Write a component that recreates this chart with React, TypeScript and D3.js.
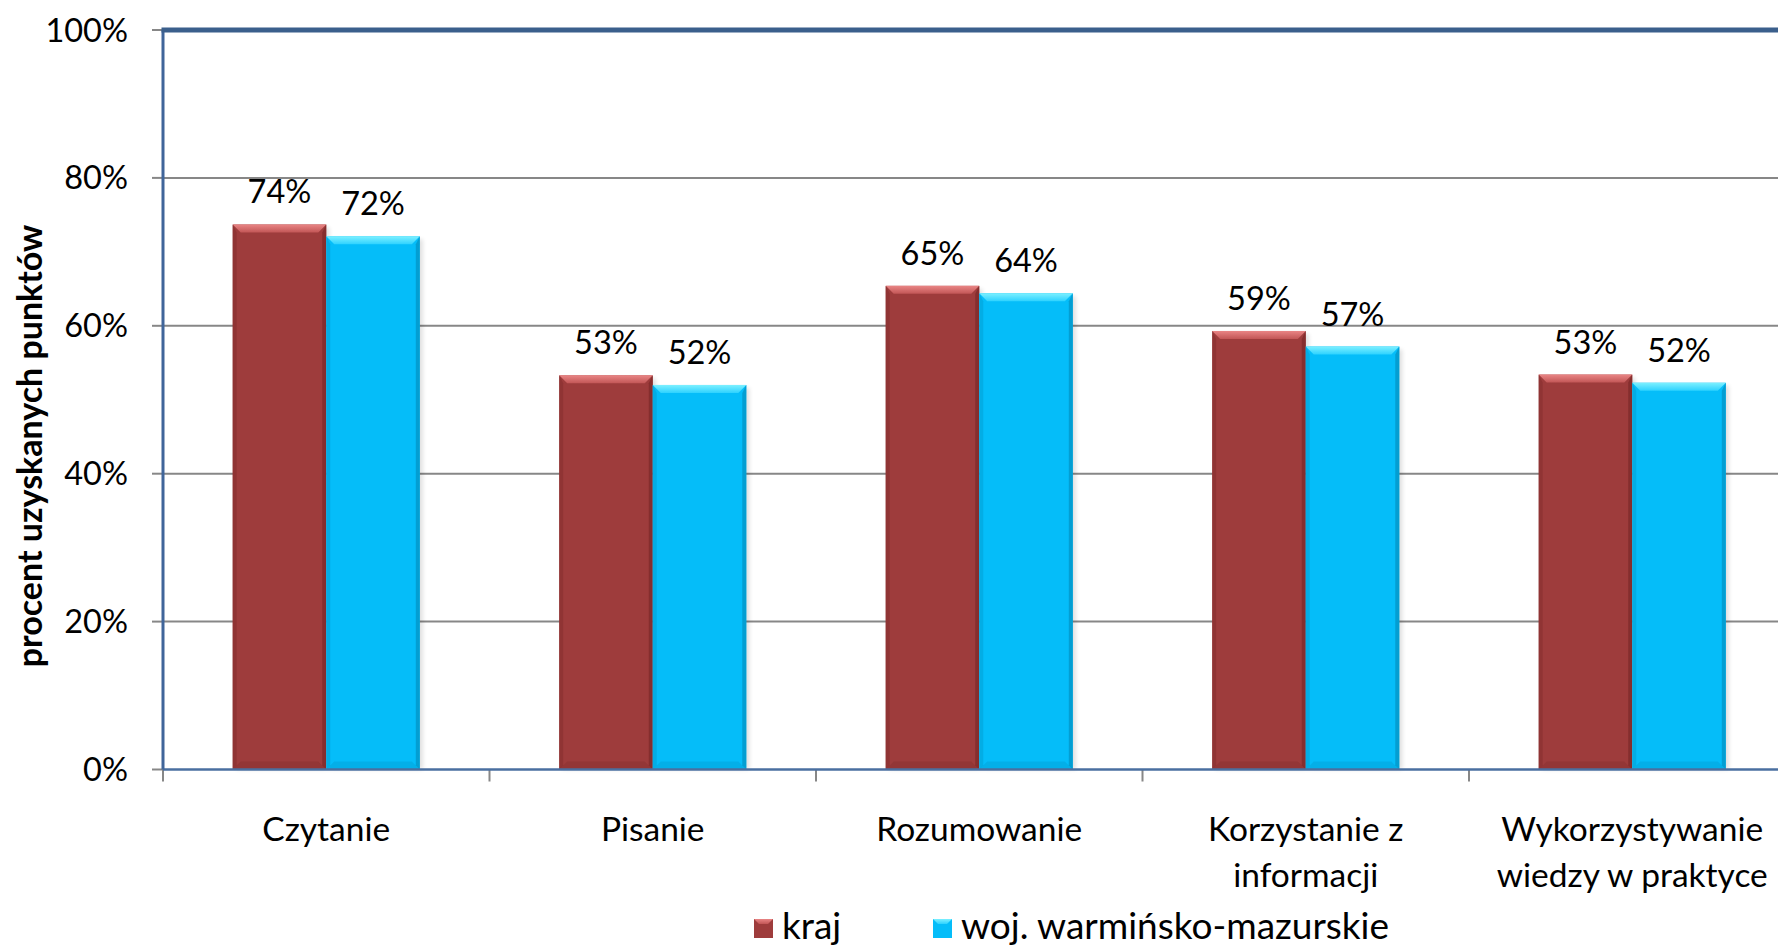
import React from "react";
import * as d3 from "d3";

const categories = ["Czytanie", "Pisanie", "Rozumowanie", "Korzystanie z informacji", "Wykorzystywanie wiedzy w praktyce"];
const categoryLines = [["Czytanie"], ["Pisanie"], ["Rozumowanie"], ["Korzystanie z", "informacji"], ["Wykorzystywanie", "wiedzy w praktyce"]];
const seriesNames = ["kraj", "woj. warmińsko-mazurskie"];
const krajValues = [73.7, 53.3, 65.4, 59.3, 53.4];
const wojValues = [72.1, 52.0, 64.4, 57.2, 52.3];
const yTicks = [0, 20, 40, 60, 80, 100];
const yAxisTitle = "procent uzyskanych punktów";

const W = 1778;
const H = 946;
const FONT = "Lato, 'Open Sans', sans-serif";

const seriesStyle = [
  { base: "#9E3C3C", top: "#E98585", topDark: "#C25656", side: "#8A3030", bottom: "#7E2A2A" },
  { base: "#05BDF9", top: "#7DF0FF", topDark: "#2ED2FF", side: "#03A6DD", bottom: "#0396C8" },
];

export default function App() {
  const left = 163;
  const step = 326.5;
  const top = 30;
  const bottom = 769.5;
  const x = d3
    .scaleBand<string>()
    .domain(categories)
    .range([left, left + step * categories.length])
    .paddingInner(0.427)
    .paddingOuter(0.2135);
  const xs = d3.scaleBand<string>().domain(seriesNames).range([0, x.bandwidth()]).padding(0);
  const y = d3.scaleLinear().domain([0, 100]).range([bottom, top]);
  const values = [krajValues, wojValues];
  const b = 8;

  const bars: React.ReactNode[] = [];
  categories.forEach((c, ci) => {
    seriesNames.forEach((s, si) => {
      const v = values[si][ci];
      const bx = (x(c) as number) + (xs(s) as number);
      const bw = xs.bandwidth();
      const by = y(v);
      const bh = y(0) - by;
      const st = seriesStyle[si];
      bars.push(
        <g key={`${c}-${s}`}>
          <rect x={bx + 3} y={by + 3} width={bw} height={bh - 3} fill="#000" opacity={0.12} filter="url(#blur)" />
          <rect x={bx} y={by} width={bw} height={bh} fill={st.base} />
          <polygon
            points={`${bx},${by} ${bx + bw},${by} ${bx + bw - b},${by + b} ${bx + b},${by + b}`}
            fill={`url(#topg${si})`}
          />
          <polygon
            points={`${bx},${by} ${bx + b * 0.5},${by + b} ${bx + b * 0.5},${by + bh - b * 0.5} ${bx},${by + bh}`}
            fill={st.side}
            opacity={0.7}
          />
          <polygon
            points={`${bx + bw},${by} ${bx + bw - b * 0.5},${by + b} ${bx + bw - b * 0.5},${by + bh - b * 0.5} ${bx + bw},${by + bh}`}
            fill={st.bottom}
            opacity={0.8}
          />
          <polygon
            points={`${bx},${by + bh} ${bx + bw},${by + bh} ${bx + bw - b},${by + bh - b} ${bx + b},${by + bh - b}`}
            fill={st.bottom}
            opacity={0.35}
          />
          <text
            x={bx + bw / 2}
            y={by - 21}
            textAnchor="middle"
            fontFamily={FONT}
            fontSize={32.5}
            fill="#000"
          >
            {`${Math.round(v)}%`}
          </text>
        </g>
      );
    });
  });

  const xTickPositions = d3.range(categories.length + 1).map((i) => left + i * step);

  return (
    <svg width={W} height={H} style={{ position: "absolute", left: 0, top: 0, background: "#fff" }}>
      <defs>
        {seriesStyle.map((st, i) => (
          <linearGradient key={i} id={`topg${i}`} x1="0" y1="0" x2="0" y2="1">
            <stop offset="0%" stopColor={st.top} />
            <stop offset="100%" stopColor={st.topDark} />
          </linearGradient>
        ))}
        <filter id="blur" x="-10%" y="-10%" width="120%" height="120%">
          <feGaussianBlur stdDeviation="2" />
        </filter>
      </defs>
      <rect x={0} y={0} width={W} height={H} fill="#fff" />
      {yTicks
        .filter((t) => t > 0 && t < 100)
        .map((t) => (
          <line key={t} x1={left} x2={W} y1={y(t)} y2={y(t)} stroke="#878787" strokeWidth={2} />
        ))}
      {yTicks.map((t) => (
        <line key={`yt${t}`} x1={left - 11} x2={left} y1={y(t)} y2={y(t)} stroke="#878787" strokeWidth={2} />
      ))}
      {xTickPositions.map((p, i) => (
        <line key={`xt${i}`} x1={p} x2={p} y1={bottom} y2={bottom + 12} stroke="#878787" strokeWidth={2} />
      ))}
      {bars}
      <line x1={left} x2={W} y1={bottom} y2={bottom} stroke="#4A6FA0" strokeWidth={2.5} />
      <line x1={left} x2={left} y1={top} y2={bottom} stroke="#40659A" strokeWidth={3} />
      <line x1={left - 1.5} x2={W} y1={top} y2={top} stroke="#3B5F8C" strokeWidth={5} />
      {yTicks.map((t) => (
        <text
          key={`yl${t}`}
          x={128}
          y={y(t) + 11.5}
          textAnchor="end"
          fontFamily={FONT}
          fontSize={32.5}
          fill="#000"
        >
          {`${t}%`}
        </text>
      ))}
      {categories.map((c, ci) => (
        <text
          key={`cl${c}`}
          x={(x(c) as number) + x.bandwidth() / 2}
          y={841}
          textAnchor="middle"
          fontFamily={FONT}
          fontSize={33.5}
          fill="#000"
        >
          {categoryLines[ci].map((ln, li) => (
            <tspan key={li} x={(x(c) as number) + x.bandwidth() / 2} dy={li === 0 ? 0 : 46}>
              {ln}
            </tspan>
          ))}
        </text>
      ))}
      <text
        transform={`translate(42, 446) rotate(-90)`}
        textAnchor="middle"
        fontFamily={FONT}
        fontWeight="bold"
        fontSize={34}
        fill="#000"
      >
        {yAxisTitle}
      </text>
      {seriesNames.map((s, si) => {
        const lx = si === 0 ? 754 : 933;
        const st = seriesStyle[si];
        return (
          <g key={`lg${s}`}>
            <rect x={lx} y={919} width={19} height={19} fill={st.base} />
            <polygon
              points={`${lx},${919} ${lx + 19},${919} ${lx + 14},${924} ${lx + 5},${924}`}
              fill={`url(#topg${si})`}
            />
            <text x={lx + 28} y={939} fontFamily={FONT} fontSize={37} fill="#000">
              {s}
            </text>
          </g>
        );
      })}
    </svg>
  );
}
